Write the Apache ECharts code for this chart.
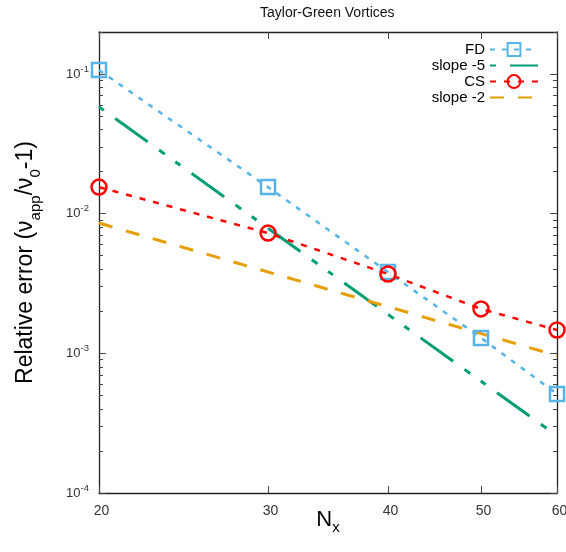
<!DOCTYPE html>
<html>
<head>
<meta charset="utf-8">
<script src="https://cdn.jsdelivr.net/npm/echarts@6/dist/echarts.min.js"></script>
<style>html,body{margin:0;padding:0;background:#fff;}#c{width:566px;height:552px;}</style>
</head>
<body>
<div id="c"></div>
<script>
var nx = [20, 30, 40, 50, 60];
var fdErr = [0.1067, 0.0155, 0.00382, 0.00129, 0.000512];
var csErr = [0.0155, 0.00726, 0.00370, 0.00208, 0.00147];
var slope5N = [20, 60];
var slope5 = [0.0582, 0.000257];
var slope2N = [20, 60];
var slope2 = [0.00857, 0.000964];
var xTicks = [20, 30, 40, 50, 60];
var yMajor = [1e-4, 1e-3, 1e-2, 1e-1];
var yMinor = [2e-4,3e-4,4e-4,5e-4,6e-4,7e-4,8e-4,9e-4,2e-3,3e-3,4e-3,5e-3,6e-3,7e-3,8e-3,9e-3,2e-2,3e-2,4e-2,5e-2,6e-2,7e-2,8e-2,9e-2,2e-1];

function pairs(xs, ys){ return xs.map(function(x,i){ return [x, ys[i]]; }); }

var FONT = "'Liberation Sans', Arial, sans-serif";
var C_BLUE = '#56B4E9', C_GREEN = '#009E73', C_RED = '#FF0000', C_ORANGE = '#E69F00';
var YMIN = 1e-4, YMAX = 0.2;

function yAxisDef(pos, ticks, len, showLine, showLabel){
  return {
    type: 'log', logBase: 10, min: YMIN, max: YMAX, position: pos,
    axisLine: {show: showLine, lineStyle: {color: '#222', width: 1.3}},
    axisTick: {show: true, inside: true, length: len, customValues: ticks, lineStyle: {color: '#444', width: 1}},
    axisLabel: showLabel ? {
      show: true, customValues: ticks, margin: 10, fontFamily: FONT, color: '#333',
      formatter: function(v){ var e = Math.round(Math.log10(v)); return '{b|10}{s|' + e + '}'; },
      rich: {
        b: {fontSize: 13, fontFamily: FONT, color: '#333', lineHeight: 20, verticalAlign: 'middle'},
        s: {fontSize: 9.5, fontFamily: FONT, color: '#333', lineHeight: 10, verticalAlign: 'top'}
      }
    } : {show: false},
    splitLine: {show: false}, minorTick: {show: false}, minorSplitLine: {show: false}
  };
}

var yAxes = [
  yAxisDef('left', yMajor, 7, true, true),
  yAxisDef('left', yMinor, 4, false, false),
  yAxisDef('right', yMajor, 7, true, false),
  yAxisDef('right', yMinor, 4, false, false)
];
yAxes[0].name = '{n|Relative error (ν}{s|app}{n|/ν}{s|0}{n|-1)}';
yAxes[0].nameLocation = 'middle';
yAxes[0].nameGap = 56;
yAxes[0].nameMoveOverlap = false;
yAxes[0].nameTextStyle = {
  fontFamily: FONT, color: '#000',
  rich: {
    n: {fontSize: 23, fontFamily: FONT, color: '#000', lineHeight: 34, verticalAlign: 'middle'},
    s: {fontSize: 15, fontFamily: FONT, color: '#000', lineHeight: 17, verticalAlign: 'bottom'}
  }
};

var option = {
  animation: false,
  backgroundColor: '#fff',
  title: {
    text: 'Taylor-Green Vortices', left: 255, top: 1,
    textStyle: {fontFamily: FONT, fontSize: 14, fontWeight: 'normal', color: '#111'}
  },
  grid: {left: 99, right: 9, top: 32, bottom: 59, containLabel: false, outerBoundsMode: 'none'},
  legend: {
    data: ['FD', 'slope -5', 'CS', 'slope -2'],
    orient: 'vertical', right: 22, top: 37, align: 'right',
    itemWidth: 48, itemHeight: 16, itemGap: 1,
    textStyle: {fontFamily: FONT, fontSize: 15, color: '#000'}
  },
  xAxis: [
    {
      type: 'log', logBase: 10, min: 20, max: 60, position: 'bottom',
      name: '{n|N}{s|x}', nameLocation: 'middle', nameGap: 12, nameMoveOverlap: false,
      nameTextStyle: {
        fontFamily: FONT, color: '#000',
        rich: {
          n: {fontSize: 22, fontFamily: FONT, color: '#000', lineHeight: 30, verticalAlign: 'middle'},
          s: {fontSize: 15, fontFamily: FONT, color: '#000', lineHeight: 16, verticalAlign: 'bottom'}
        }
      },
      axisLine: {show: true, lineStyle: {color: '#222', width: 1.3}},
      axisTick: {show: true, inside: true, length: 7, customValues: xTicks, lineStyle: {color: '#444'}},
      axisLabel: {show: true, customValues: xTicks, margin: 11, fontFamily: FONT, fontSize: 14, color: '#333', padding: [0, 0, 0, 5], hideOverlap: false},
      splitLine: {show: false}, minorTick: {show: false}
    },
    {
      type: 'log', logBase: 10, min: 20, max: 60, position: 'top',
      axisLine: {show: true, lineStyle: {color: '#222', width: 1.3}},
      axisTick: {show: true, inside: true, length: 7, customValues: xTicks, lineStyle: {color: '#444'}},
      axisLabel: {show: false},
      splitLine: {show: false}, minorTick: {show: false}
    }
  ],
  yAxis: yAxes,
  series: [
    {
      name: 'FD', type: 'line', xAxisIndex: 0, yAxisIndex: 0,
      data: pairs(nx, fdErr),
      symbol: 'rect', symbolSize: 14,
      itemStyle: {color: 'rgba(255,255,255,0)', borderColor: C_BLUE, borderWidth: 2.5},
      lineStyle: {color: C_BLUE, width: 2.5, type: [5, 7]},
      clip: false, z: 3
    },
    {
      name: 'slope -5', type: 'line', xAxisIndex: 0, yAxisIndex: 0,
      data: pairs(slope5N, slope5),
      symbol: 'circle', showSymbol: false,
      itemStyle: {color: 'rgba(0,0,0,0)', borderWidth: 0},
      lineStyle: {color: C_GREEN, width: 3, type: [6, 14, 40, 14, 7, 13]},
      z: 2
    },
    {
      name: 'CS', type: 'line', xAxisIndex: 0, yAxisIndex: 0,
      data: pairs(nx, csErr),
      symbol: 'circle', symbolSize: 15,
      itemStyle: {color: 'rgba(255,255,255,0)', borderColor: C_RED, borderWidth: 2.5},
      lineStyle: {color: C_RED, width: 2.5, type: [6, 8]},
      clip: false, z: 4
    },
    {
      name: 'slope -2', type: 'line', xAxisIndex: 0, yAxisIndex: 0,
      data: pairs(slope2N, slope2),
      symbol: 'circle', showSymbol: false,
      itemStyle: {color: 'rgba(0,0,0,0)', borderWidth: 0},
      lineStyle: {color: C_ORANGE, width: 3, type: [14, 14]},
      z: 2
    }
  ]
};

var chart = echarts.init(document.getElementById('c'), null, {renderer: 'canvas'});
chart.setOption(option);
</script>
</body>
</html>
